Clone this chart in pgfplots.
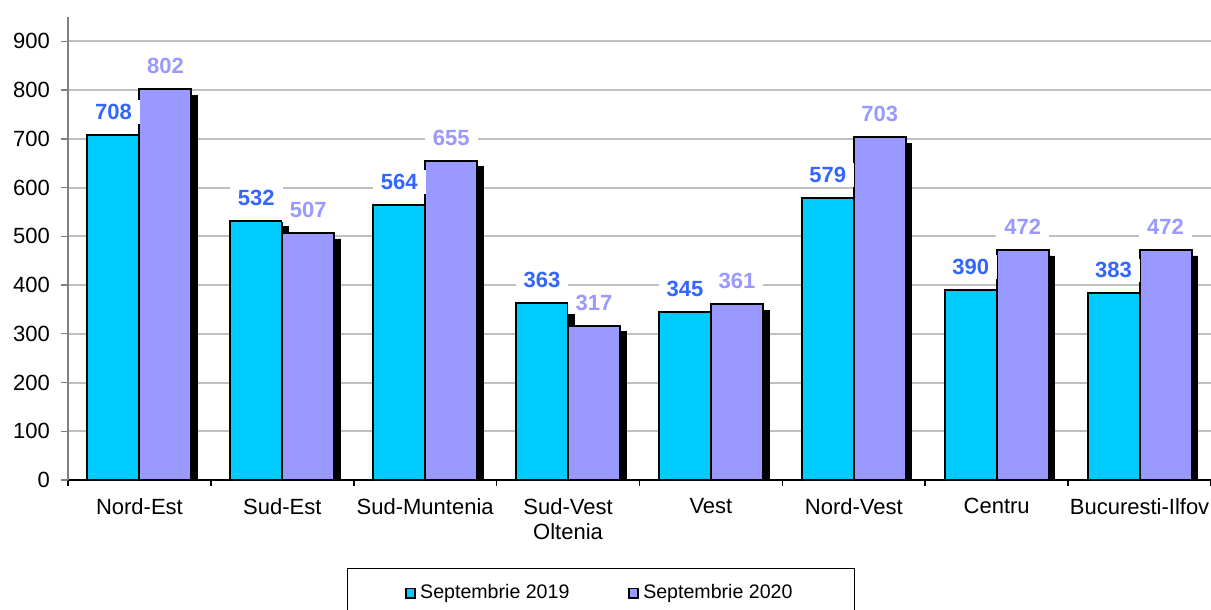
\documentclass[border=0pt]{standalone}
\usepackage{fontspec}
\setmainfont{Liberation Sans}
\usepackage{pgfplots}
\pgfplotsset{compat=1.18}
\definecolor{cyanbar}{HTML}{00CCFF}
\definecolor{lavbar}{HTML}{9999FF}
\definecolor{lab19}{HTML}{3366FF}
\definecolor{lab20}{HTML}{9999FF}
\begin{document}
\begin{tikzpicture}
\begin{axis}[
  scale only axis, width=571.5pt, height=231.5pt,
  xmin=-0.5, xmax=7.5, ymin=0, ymax=950,
  ybar, bar width=26pt,
  axis x line*=bottom, axis y line*=left,
  x axis line style={black, line width=1pt},
  y axis line style={black!50, line width=0.7pt},
  xtick={0,...,7},
  xticklabels={Nord-Est,Sud-Est,Sud-Muntenia,{Sud-Vest\\Oltenia},Vest,Nord-Vest,Centru,Bucuresti-Ilfov},
  xticklabel style={align=center, yshift=-2pt},
  minor xtick={-0.5,0.5,...,7.5},
  ytick={0,100,...,900},
  yticklabel style={xshift=-2pt},
  tick align=outside,
  major tick length=3.5pt, minor tick length=3pt,
  major x tick style={draw=none},
  minor x tick style={black, line width=0.8pt},
  ytick style={black!50, line width=0.7pt},
  ymajorgrids, grid style={black!25, line width=1pt},
  /pgf/number format/assume math mode=true,
  font=\fontsize{11}{12.5}\selectfont,
  legend columns=2,
  legend style={at={(0.4663,-0.19)}, anchor=north, draw=black, line width=0.6pt,
    font=\fontsize{9.8}{12}\selectfont, inner xsep=29pt, inner ysep=6pt},
  /tikz/every even column/.append style={column sep=27.5pt},
  legend image code/.code={\draw[#1, draw=black, line width=0.9pt] (0pt,-2.3pt) rectangle (4.5pt,2.3pt);},
]
% shadows
\addplot[fill=black, draw=black, bar shift=-13pt, xshift=3pt, yshift=-3pt, forget plot]
  coordinates {(0,708) (1,532) (2,564) (3,363) (4,345) (5,579) (6,390) (7,383)};
\addplot[fill=black, draw=black, bar shift=13pt, xshift=3pt, yshift=-3pt, forget plot]
  coordinates {(0,802) (1,507) (2,655) (3,317) (4,361) (5,703) (6,472) (7,472)};
% bars
\addplot[fill=cyanbar, draw=black, line width=1pt, bar shift=-13pt,
  nodes near coords,
  every node near coord/.append style={text=lab19, font=\fontsize{11}{12.5}\selectfont\bfseries,
    fill=white, inner xsep=4pt, inner ysep=2pt, anchor=center, yshift=11.5pt}]
  coordinates {(0,708) (1,532) (2,564) (3,363) (4,345) (5,579) (6,390) (7,383)};
\addlegendentry{Septembrie 2019}
\addplot[fill=lavbar, draw=black, line width=1pt, bar shift=13pt,
  nodes near coords,
  every node near coord/.append style={text=lab20, font=\fontsize{11}{12.5}\selectfont\bfseries,
    fill=white, inner xsep=4pt, inner ysep=2pt, anchor=center, yshift=11.5pt}]
  coordinates {(0,802) (1,507) (2,655) (3,317) (4,361) (5,703) (6,472) (7,472)};
\addlegendentry{Septembrie 2020}
\end{axis}
\pgfresetboundingbox
\path (-34pt,-65pt) rectangle (571.5pt,240pt);
\end{tikzpicture}
\end{document}
